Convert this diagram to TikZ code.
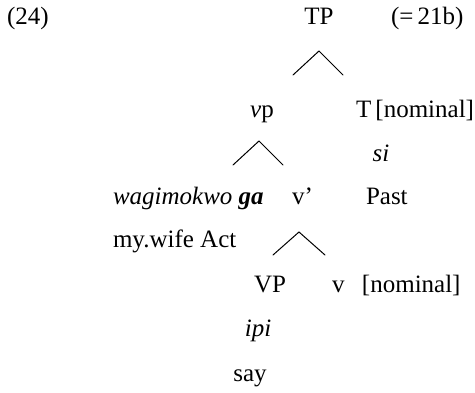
\documentclass[tikz,border=0pt]{standalone}
\usepackage{fontspec}
\setmainfont{Liberation Serif}
\begin{document}
\begin{tikzpicture}[x=1pt,y=-1pt,
  lab/.style={inner sep=0pt,outer sep=0pt,font=\fontsize{25}{30}\selectfont},
  labc/.style={lab,anchor=base},
  labl/.style={lab,anchor=base west},
  branch/.style={line width=1pt,line cap=round}]
\useasboundingbox (0,0) rectangle (475,393);

% labels, row by row
\node[labl] (exnum) at (7,25) {(24)};
\node[labc] (TP) at (319,25) {TP};
\node[labl] (ref) at (391,25) {(=\,21b)};

\node[labc] (vp) at (262,118) {\textit{v}p};
\node[labl] (T) at (356,118) {T\,[nominal]};
\node[labc] (si) at (381,162) {\textit{si}};

\node[labl] (spec) at (113,205) {\textit{wagimokwo} \textbf{\textit{ga}}};
\node[labl] (vbar) at (292,205) {v’};
\node[labl] (past) at (366,205) {Past};
\node[labl] (gloss) at (113,248) {my.wife Act};

\node[labc] (VP) at (270,293) {VP};
\node[labl] (vnom) at (332,293) {v\hspace{0.7em}[nominal]};
\node[labc] (ipi) at (258,337) {\textit{ipi}};
\node[labc] (say) at (250,382) {say};

% branch points
\coordinate (tpTop) at (319,51);
\coordinate (tpL) at (293,75);
\coordinate (tpR) at (343,75);
\coordinate (vpTop) at (259,141);
\coordinate (vpL) at (233,165);
\coordinate (vpR) at (283,165);
\coordinate (vbTop) at (299,232);
\coordinate (vbL) at (273,255);
\coordinate (vbR) at (325,255);

\draw[branch] (tpL) -- (tpTop) -- (tpR);
\draw[branch] (vpL) -- (vpTop) -- (vpR);
\draw[branch] (vbL) -- (vbTop) -- (vbR);
\end{tikzpicture}
\end{document}
